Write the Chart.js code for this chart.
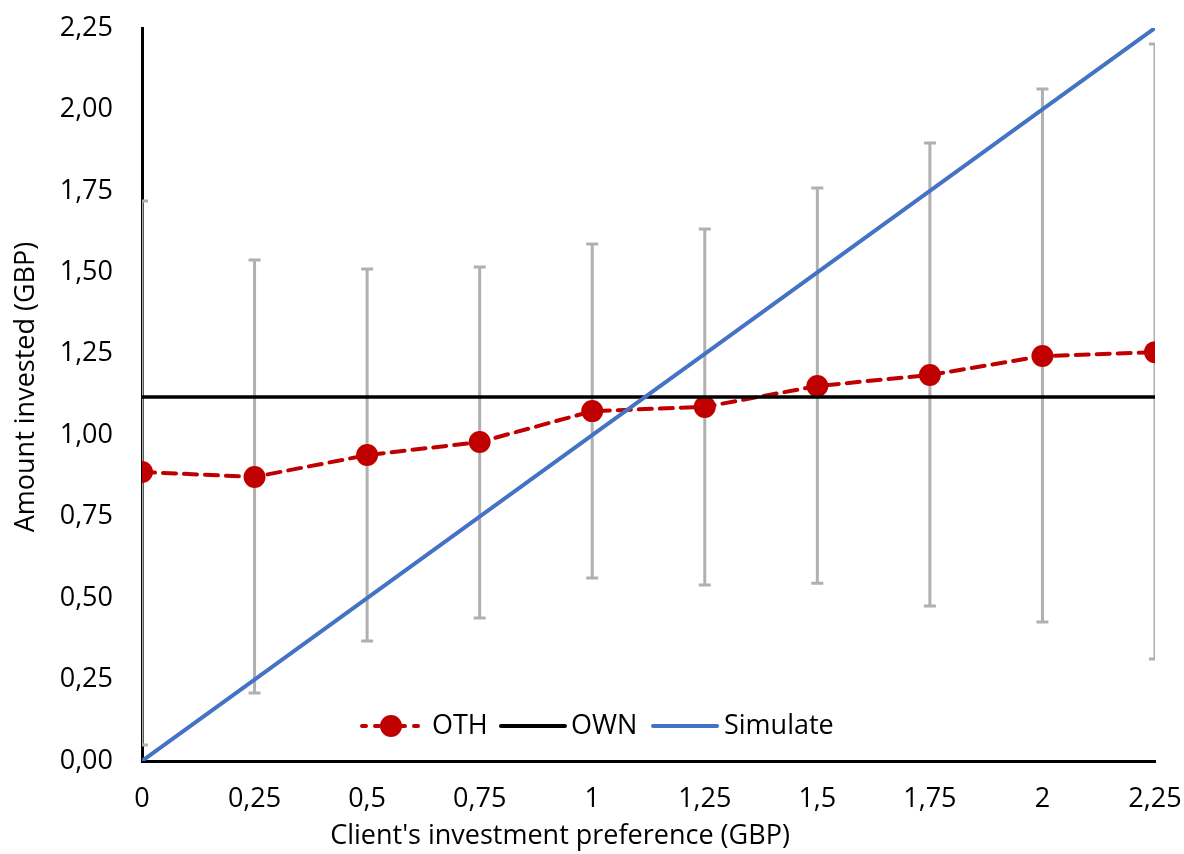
<!DOCTYPE html>
<html>
<head>
<meta charset="utf-8">
<script src="https://cdn.jsdelivr.net/npm/chart.js@4"></script>
<style>
  html, body { margin: 0; padding: 0; background: #fff; }
  #wrap { width: 1184px; height: 854px; }
</style>
</head>
<body>
<div id="wrap"><canvas id="chart" width="1184" height="854"></canvas></div>
<script>
// data
const prefs = [0, 0.25, 0.5, 0.75, 1, 1.25, 1.5, 1.75, 2, 2.25];
const othMean = [0.887, 0.872, 0.939, 0.979, 1.074, 1.087, 1.151, 1.185, 1.243, 1.255];
const othHigh = [1.719, 1.538, 1.510, 1.516, 1.587, 1.633, 1.759, 1.897, 2.063, 2.201];
const othLow = [0.049, 0.209, 0.368, 0.439, 0.562, 0.540, 0.546, 0.476, 0.427, 0.313];
const ownValue = 1.117;
const simulateValues = [0, 0.25, 0.5, 0.75, 1, 1.25, 1.5, 1.75, 2, 2.25];
const xTickLabels = ['0', '0,25', '0,5', '0,75', '1', '1,25', '1,5', '1,75', '2', '2,25'];
const yTickLabels = ['0,00', '0,25', '0,50', '0,75', '1,00', '1,25', '1,50', '1,75', '2,00', '2,25'];

const FONT = '"Open Sans", sans-serif';
const FSIZE = 27;
const RED = '#c00000';
const BLUE = '#4472c4';
const GREY = '#b0b0b0';

// error bars of the OTH series
const errorBars = {
    id: 'errorBars',
    beforeDatasetsDraw(chart) {
        const ctx = chart.ctx;
        const xs = chart.scales.x;
        const ys = chart.scales.y;
        const a = chart.chartArea;
        ctx.save();
        ctx.beginPath();
        ctx.rect(a.left, a.top - 2, a.right - a.left, a.bottom - a.top + 4);
        ctx.clip();
        ctx.strokeStyle = GREY;
        ctx.lineWidth = 3;
        for (let i = 0; i < prefs.length; i++) {
            const x = xs.getPixelForValue(prefs[i]);
            const y1 = ys.getPixelForValue(othHigh[i]);
            const y2 = ys.getPixelForValue(othLow[i]);
            ctx.beginPath();
            ctx.moveTo(x, y1); ctx.lineTo(x, y2);
            ctx.moveTo(x - 6, y1); ctx.lineTo(x + 6, y1);
            ctx.moveTo(x - 6, y2); ctx.lineTo(x + 6, y2);
            ctx.stroke();
        }
        ctx.restore();
    }
};

// legend inside the plot and axis titles
const extras = {
    id: 'extras',
    afterDraw(chart) {
        const ctx = chart.ctx;
        ctx.save();
        ctx.font = FSIZE + 'px ' + FONT;
        ctx.fillStyle = '#000';
        ctx.textBaseline = 'middle';
        const ly = 726;
        // OTH
        ctx.strokeStyle = RED;
        ctx.lineWidth = 4;
        ctx.lineCap = 'round';
        ctx.setLineDash([4, 9]);
        ctx.beginPath(); ctx.moveTo(362, ly); ctx.lineTo(425, ly); ctx.stroke();
        ctx.setLineDash([]);
        ctx.fillStyle = RED;
        ctx.beginPath(); ctx.arc(391, ly, 11, 0, Math.PI * 2); ctx.fill();
        ctx.fillStyle = '#000';
        ctx.fillText('OTH', 432, ly);
        // OWN
        ctx.strokeStyle = '#000';
        ctx.lineWidth = 4;
        ctx.beginPath(); ctx.moveTo(501, ly); ctx.lineTo(565, ly); ctx.stroke();
        ctx.fillText('OWN', 571, ly);
        // Simulate
        ctx.strokeStyle = BLUE;
        ctx.beginPath(); ctx.moveTo(653, ly); ctx.lineTo(717, ly); ctx.stroke();
        ctx.fillText('Simulate', 724, ly);

        // axis titles
        ctx.textAlign = 'center';
        ctx.fillText("Client's investment preference (GBP)", 560, 836);
        ctx.translate(26, 387);
        ctx.rotate(-Math.PI / 2);
        ctx.fillText('Amount invested (GBP)', 0, 0);
        ctx.restore();
    }
};

new Chart(document.getElementById('chart'), {
    type: 'scatter',
    data: {
        datasets: [
            {
                label: 'OTH',
                data: prefs.map((p, i) => ({ x: p, y: othMean[i] })),
                showLine: true,
                borderColor: RED,
                backgroundColor: RED,
                borderWidth: 4,
                borderDash: [13, 8],
                borderCapStyle: 'round',
                pointRadius: 11,
                pointHoverRadius: 11,
                pointBorderWidth: 0,
                order: 3
            },
            {
                label: 'OWN',
                data: [{ x: prefs[0], y: ownValue }, { x: prefs[prefs.length - 1], y: ownValue }],
                showLine: true,
                borderColor: '#000',
                borderWidth: 3.5,
                pointRadius: 0,
                order: 2
            },
            {
                label: 'Simulate',
                data: prefs.map((p, i) => ({ x: p, y: simulateValues[i] })),
                showLine: true,
                borderColor: BLUE,
                borderWidth: 4,
                pointRadius: 0,
                order: 1
            }
        ]
    },
    options: {
        responsive: false,
        animation: false,
        layout: { padding: { top: 28, right: 29, left: 0, bottom: 0 } },
        plugins: {
            legend: { display: false },
            tooltip: { enabled: false }
        },
        scales: {
            x: {
                type: 'linear',
                min: 0,
                max: 2.25,
                afterFit(s) { s.height = 93; s.paddingLeft = 0; s.paddingRight = 0; },
                afterBuildTicks(s) { s.ticks = prefs.map(v => ({ value: v })); },
                grid: { display: false, drawTicks: false },
                border: { display: true, color: '#000', width: 3 },
                ticks: {
                    color: '#000',
                    font: { family: FONT, size: FSIZE },
                    padding: 22,
                    maxRotation: 0,
                    autoSkip: false,
                    callback: (v, i) => xTickLabels[i]
                }
            },
            y: {
                min: 0,
                max: 2.25,
                afterFit(s) { s.width = 142; s.paddingTop = 0; s.paddingBottom = 0; },
                afterBuildTicks(s) { s.ticks = simulateValues.map(v => ({ value: v })); },
                grid: { display: false, drawTicks: false },
                border: { display: true, color: '#000', width: 3 },
                ticks: {
                    color: '#000',
                    font: { family: FONT, size: FSIZE },
                    padding: 29,
                    autoSkip: false,
                    callback: (v, i) => yTickLabels[i]
                }
            }
        }
    },
    plugins: [errorBars, extras]
});
</script>
</body>
</html>
